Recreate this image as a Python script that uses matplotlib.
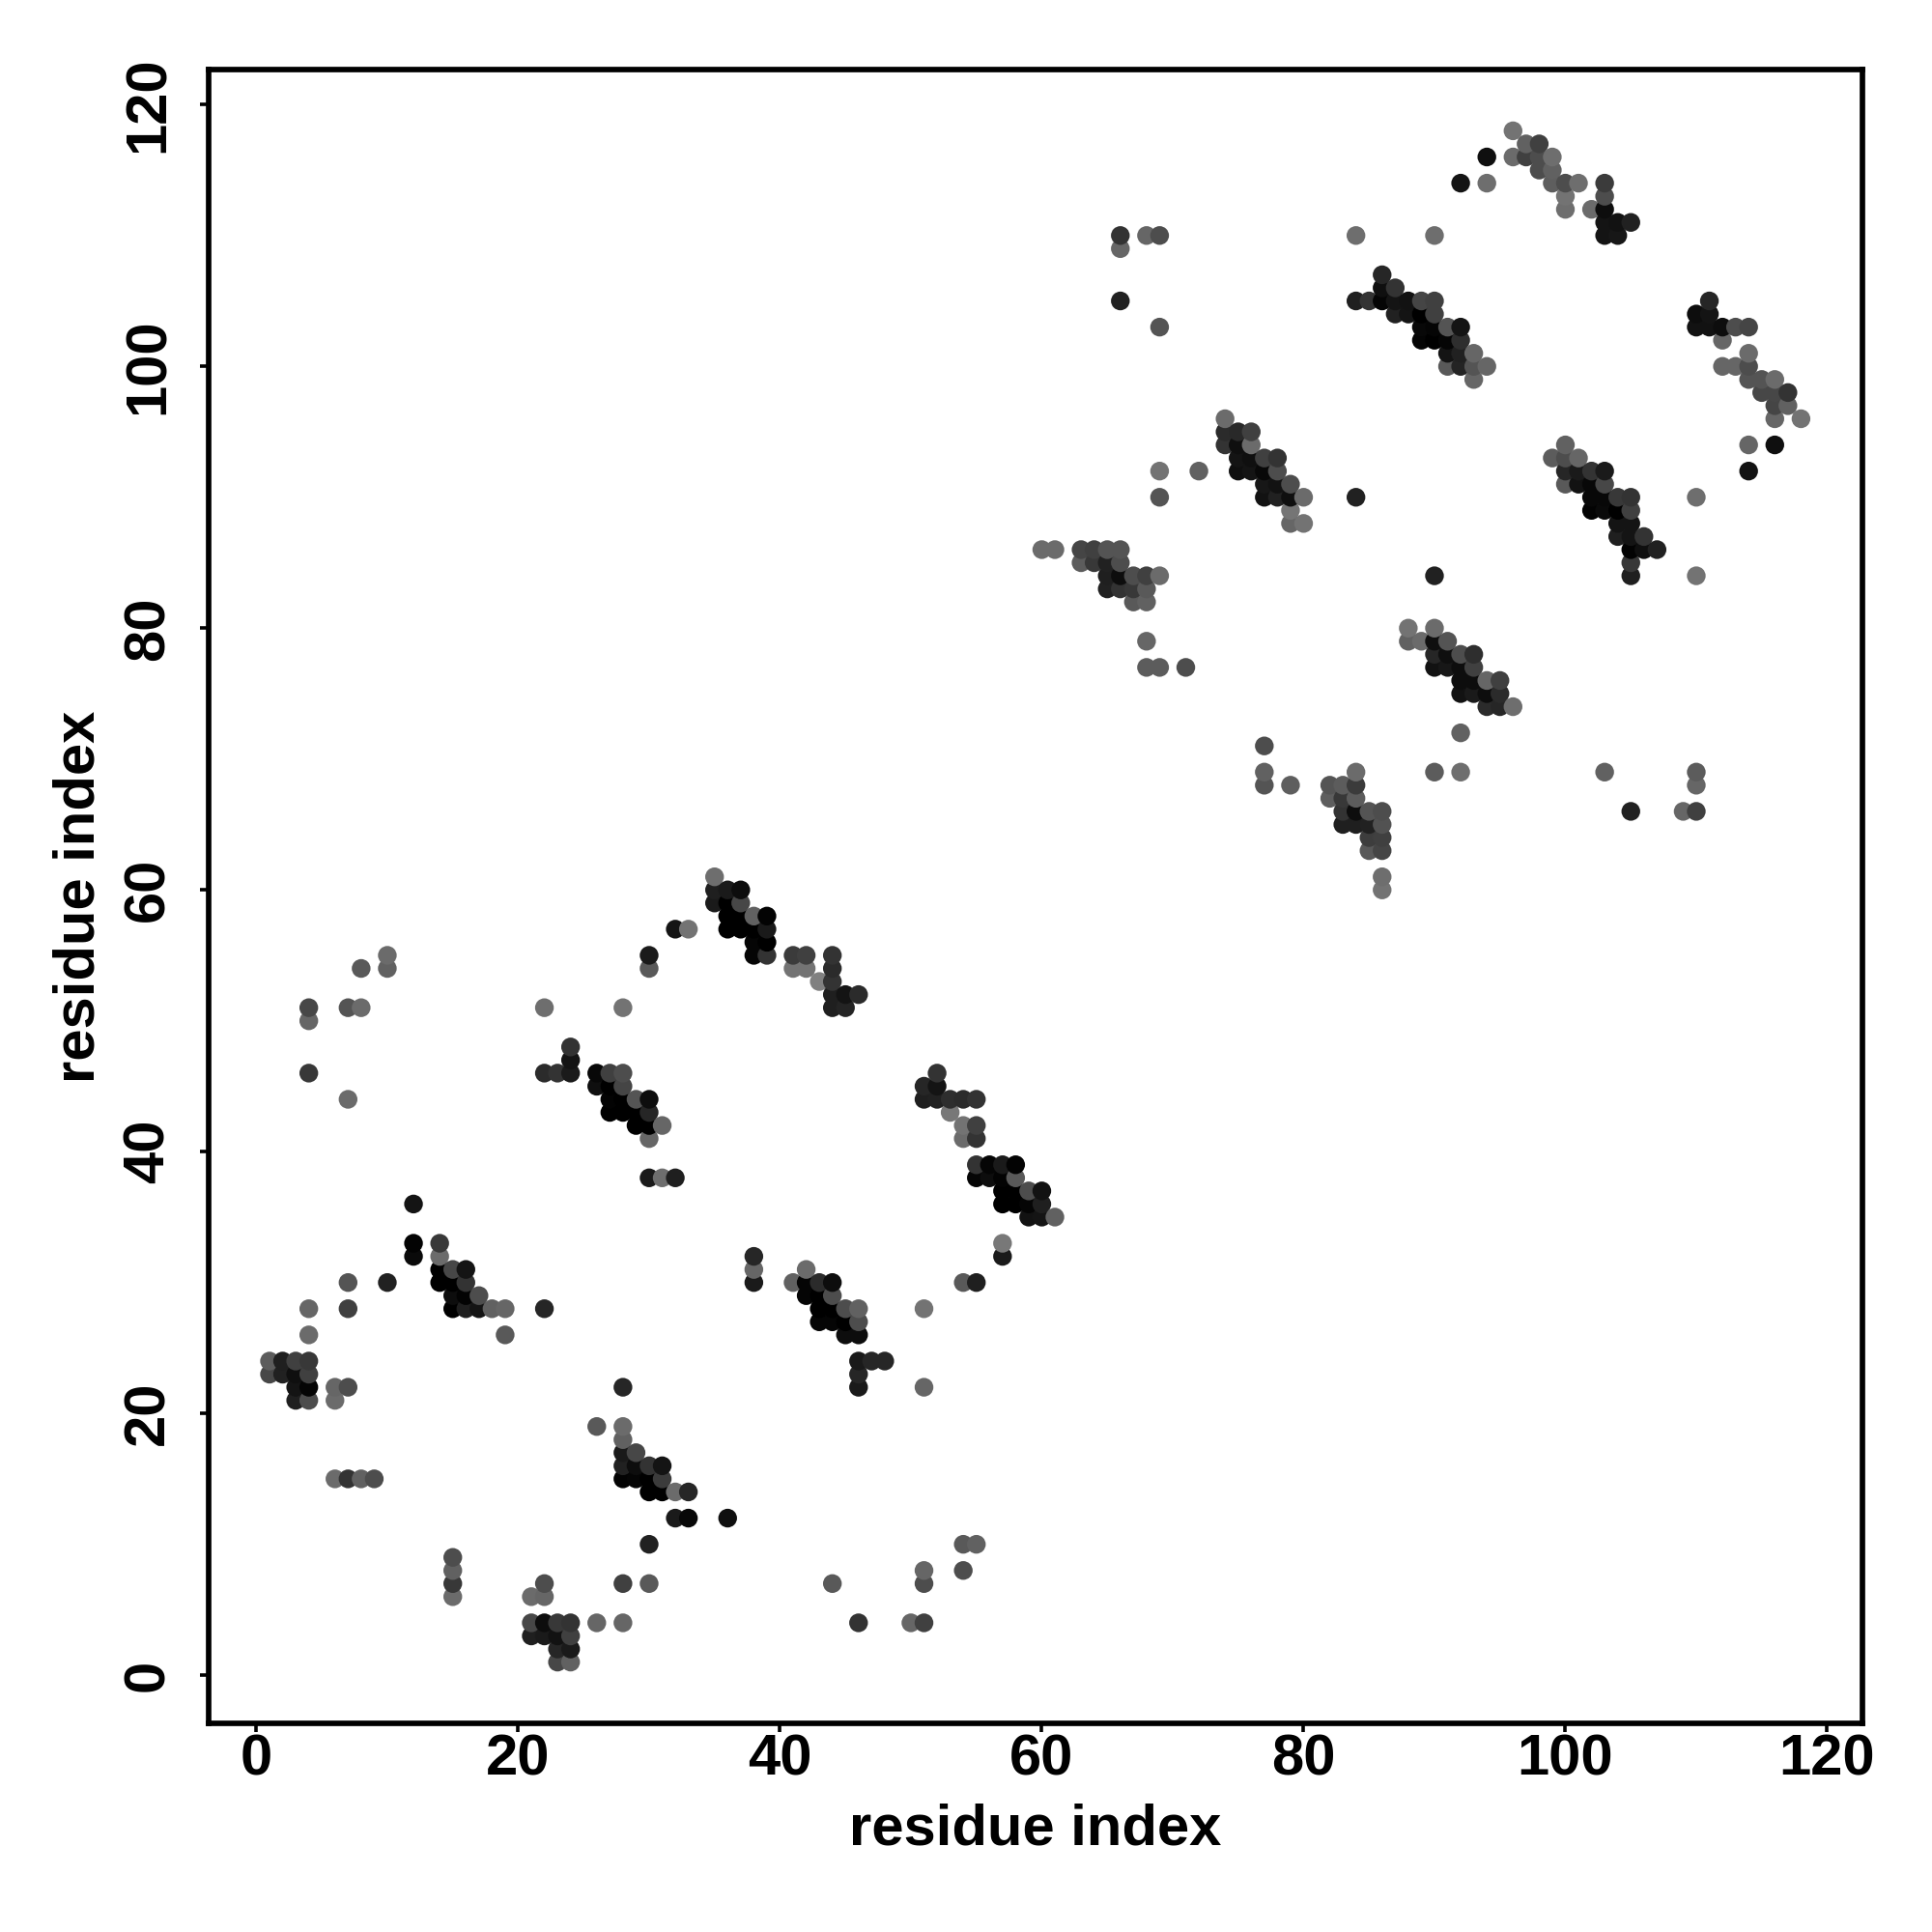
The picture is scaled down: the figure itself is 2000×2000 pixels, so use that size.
# contact map, residue index vs residue index
import matplotlib
matplotlib.use('Agg')
import matplotlib.pyplot as plt

# each entry: residue i, residue j, grey level of the dot
block_a = [(1,24,.36),(2,24,.12),(3,24,.25),(4,24,.22),(1,23,.28),(2,23,.13),(3,23,.06),(4,23,.25),
           (3,22,.08),(4,22,.02),(3,21,.12),(4,21,.3),(6,22,.4),(7,22,.3),(6,21,.42),
           (4,26,.42),(4,28,.4),(7,28,.25),(7,30,.33),(10,30,.13),(12,36,.08),(12,33,.01),(12,32,.04),
           (14,33,.22),(14,32,.42),(14,31,0),(15,31,.28),(16,31,.08),(14,30,0),(15,30,0),(16,30,.2),
           (15,29,.05),(16,29,.01),(17,29,.3),(15,28,0),(16,28,.12),(17,28,.08),(18,28,.38),(19,28,.4),
           (22,28,.15),(19,26,.35),(6,15,.42),(7,15,.2),(8,15,.38),(9,15,.3),
           (15,9,.3),(15,8,.38),(15,7,.22),(15,6,.42)]
block_b = [(22,7,.3),(21,6,.42),(22,6,.4),(21,4,.28),(22,4,.05),(23,4,.22),(24,4,.2),(21,3,.12),(22,3,.1),
           (23,3,.07),(24,3,.25),(23,2,.15),(24,2,.1),(23,1,.28),(24,1,.38),(26,4,.4),(28,4,.4),(28,7,.25),
           (30,7,.35),(30,10,.13),(28,22,.15),(26,19,.35),(28,19,.42),(28,18,.38),(28,17,.1),(29,17,.28),
           (28,16,.13),(29,16,.05),(30,16,.2),(31,16,.08),(28,15,.01),(29,15,.02),(30,15,0),(31,15,.23),
           (30,14,0),(31,14,0),(32,14,.42),(33,14,.15),(36,12,.06),(32,12,.1),(33,12,.03),
           (44,7,.35),(46,4,.2),(50,4,.4),(51,4,.25),(51,7,.3),(51,8,.4),(54,8,.3),(54,10,.35),(55,10,.38)]
block_c = [(4,51,.28),(4,50,.4),(7,51,.33),(8,51,.42),(8,54,.35),(10,55,.42),(10,54,.38),(4,46,.22),(7,44,.42),
           (22,51,.43),(28,51,.45),(22,46,.17),(23,46,.2),(24,46,.1),(24,47,.08),(24,48,.2),
           (26,46,.03),(27,46,.25),(28,46,.3),(26,45,.06),(27,45,0),(28,45,.27),(27,44,.01),(28,44,0),
           (29,44,.33),(30,44,.05),(27,43,0),(28,43,0),(29,43,0),(30,43,.15),(29,42,0),(30,42,0),(31,42,.4),
           (30,41,.4),(30,38,.1),(31,38,.43),(32,38,.12),(30,55,.1),(30,54,.35),(32,57,.08),(33,57,.45)]
block_d = [(35,61,.43),(35,60,.12),(36,60,.1),(37,60,.05),(35,59,.1),(36,59,0),(37,59,.28),(36,58,0),(37,58,0),
           (38,58,.38),(39,58,.01),(36,57,0),(37,57,0),(38,57,0),(39,57,.1),(38,56,.02),(39,56,0),(38,55,.02),
           (39,55,.2),(41,55,.23),(42,55,.25),(41,54,.45),(42,54,.45),(43,53,.5),(44,55,.2),(44,54,.17),
           (44,53,.2),(44,52,.12),(45,52,.08),(46,52,.17),(44,51,.12),(45,51,.14)]
block_e = [(38,32,.15),(38,31,.4),(38,30,.1),(41,30,.38),(42,31,.42),(42,30,.02),(43,30,.17),(44,30,.05),
           (42,29,.02),(43,29,0),(44,29,.3),(43,28,0),(44,28,0),(45,28,.3),(46,28,.38),(43,27,.02),(44,27,.02),
           (45,27,0),(46,27,.3),(45,26,.05),(46,26,.05),(46,24,.1),(47,24,.15),(48,24,.15),(46,23,.15),(46,22,.1),
           (51,28,.45),(51,22,.4),(54,30,.35),(55,30,.12),(57,32,.1),(57,33,.47)]
block_f = [(52,46,.2),(51,45,.15),(52,45,.08),(51,44,.12),(52,44,.13),(53,44,.18),(54,44,.17),(55,44,.2),
           (53,43,.47),(54,42,.45),(55,42,.25),(54,41,.42),(55,41,.2),(55,39,.2),(56,39,.02),(57,39,.1),
           (58,39,.01),(55,38,.02),(56,38,.05),(57,38,.01),(58,38,.35),(57,37,0),(58,37,0),(59,37,.3),
           (60,37,.07),(57,36,0),(58,36,0),(59,36,.02),(60,36,.12),(59,35,.07),(60,35,.08),(61,35,.38)]
block_g = [(74,96,.42),(74,95,.17),(75,95,.16),(76,95,.25),(74,94,.2),(75,94,.06),(76,94,.42),(75,93,.08),
           (76,93,.06),(77,93,.25),(78,93,.2),(75,92,.06),(76,92,.08),(77,92,.03),(78,92,.3),(77,91,.09),
           (78,91,.07),(79,91,.3),(77,90,.07),(78,90,.13),(79,90,.06),(80,90,.42),(79,89,.46),(79,88,.4),
           (80,88,.45),(69,92,.45),(72,92,.38),(69,90,.33),(84,90,.13)]
block_h = [(60,86,.42),(61,86,.42),(63,86,.27),(64,86,.25),(65,86,.33),(66,86,.33),(63,85,.36),(64,85,.22),
           (65,85,.13),(66,85,.3),(65,84,.12),(66,84,.05),(67,84,.3),(68,84,.25),(69,84,.42),(65,83,.13),
           (66,83,.2),(67,83,.22),(68,83,.35),(67,82,.35),(68,82,.38),(68,79,.4),(68,77,.36),(69,77,.36),(71,77,.3)]
block_i = [(77,71,.3),(77,69,.38),(77,68,.33),(79,68,.37),(84,69,.42),(82,68,.33),(83,68,.36),(84,68,.23),
           (82,67,.37),(83,67,.22),(84,67,.36),(83,66,.2),(84,66,.05),(85,66,.33),(86,66,.3),(83,65,.12),
           (84,65,.12),(85,65,.13),(86,65,.32),(85,64,.24),(86,64,.25),(85,63,.35),(86,63,.27),(86,61,.43),(86,60,.45)]
block_j = [(90,84,.13),(88,80,.45),(90,80,.42),(88,79,.38),(89,79,.42),(90,79,.06),(91,79,.33),(90,78,.15),
           (91,78,.06),(92,78,.3),(93,78,.18),(90,77,.07),(91,77,.09),(92,77,.05),(93,77,.25),(92,76,.05),
           (93,76,.05),(94,76,.4),(95,76,.25),(92,75,.07),(93,75,.1),(94,75,.05),(95,75,.17),(94,74,.17),
           (95,74,.15),(96,74,.43),(92,72,.38),(90,69,.36),(92,69,.43),(103,69,.38),(110,69,.36),(110,68,.4),
           (105,66,.13),(109,66,.4),(110,66,.25)]
block_k = [(110,84,.45),(105,84,.12),(105,85,.22),(110,90,.43),(100,94,.38),(99,93,.36),(100,93,.3),(101,93,.4),
           (100,92,.15),(101,92,.1),(102,92,.2),(103,92,.1),(100,91,.35),(101,91,.07),(102,91,.03),(103,91,.28),
           (102,90,.03),(103,90,.03),(104,90,.22),(105,90,.2),(102,89,.01),(103,89,.04),(104,89,0),(105,89,.25),
           (104,88,.08),(105,88,.08),(104,87,.12),(105,87,.08),(106,87,.2),(105,86,.01),(106,86,.06),(107,86,.13),
           (114,94,.4),(116,94,.06),(114,92,.07)]
block_l = [(84,110,.43),(90,110,.43),(92,114,.08),(94,116,.06),(94,114,.43),(96,118,.45),(96,116,.42),(97,117,.38),
           (98,117,.25),(97,116,.25),(98,116,.3),(99,116,.43),(98,115,.3),(99,115,.38),(99,114,.37),(100,114,.3),
           (101,114,.43),(100,113,.45),(100,112,.43),(102,112,.42),(103,114,.23),(103,113,.3),(103,112,.05),
           (103,111,.08),(104,111,.07),(105,111,.13),(103,110,.08),(104,110,.09)]
block_m = [(86,107,.15),(86,106,.06),(87,106,.2),(84,105,.12),(85,105,.2),(86,105,.02),(87,105,.08),(88,105,.07),
           (89,105,.27),(90,105,.25),(87,104,.13),(88,104,.08),(89,104,0),(90,104,.25),(89,103,.03),(90,103,.02),
           (91,103,.33),(92,103,.08),(89,102,.02),(90,102,0),(91,102,.02),(92,102,.18),(91,101,.08),(92,101,.13),
           (93,101,.4),(91,100,.35),(92,100,.14),(93,100,.33),(94,100,.4),(93,99,.4)]
block_n = [(111,105,.15),(110,104,.05),(111,104,.08),(110,103,.07),(111,103,.07),(112,103,.05),(113,103,.3),
           (114,103,.27),(112,102,.4),(114,101,.42),(112,100,.4),(113,100,.4),(114,100,.3),(114,99,.33),(115,99,.33),
           (116,99,.42),(115,98,.28),(116,98,.28),(117,98,.2),(116,97,.27),(117,97,.38),(116,96,.4),(118,96,.45),
           (66,110,.2),(66,109,.4),(68,110,.4),(69,110,.3),(66,105,.13),(69,103,.33)]

tick_values = [0, 20, 40, 60, 80, 100, 120]
axis_name = 'residue index'

contacts = (block_a + block_b + block_c + block_d + block_e + block_f + block_g
            + block_h + block_i + block_j + block_k + block_l + block_m + block_n)
contacts = sorted(contacts, key=lambda c: (c[0], c[1]))

plt.rcParams['font.family'] = ['Liberation Sans', 'DejaVu Sans']
plt.rcParams['font.weight'] = 'bold'

fig = plt.figure(figsize=(20, 20), dpi=100)
ax = fig.add_axes([0.1078, 0.108, 0.8561, 0.856])

ax.scatter([c[0] for c in contacts], [c[1] for c in contacts],
           c=[str(c[2]) for c in contacts], s=195, linewidths=0, zorder=3)

ax.set_xlim(-3.68, 122.68)
ax.set_ylim(-3.68, 122.68)
ax.set_xticks(tick_values)
ax.set_yticks(tick_values)
ax.tick_params(axis='both', length=6.5, width=2.6, labelsize=43)
ax.tick_params(axis='x', pad=1)
ax.tick_params(axis='y', pad=18)
for lab in ax.get_yticklabels():
    lab.set_rotation(90)
    lab.set_va('center')
for s in ax.spines.values():
    s.set_linewidth(4.1)

ax.set_xlabel(axis_name, fontsize=43, fontweight='bold', labelpad=12.5)
ax.set_ylabel(axis_name, fontsize=43, fontweight='bold', labelpad=12)

fig.savefig('out.png', dpi=100)
